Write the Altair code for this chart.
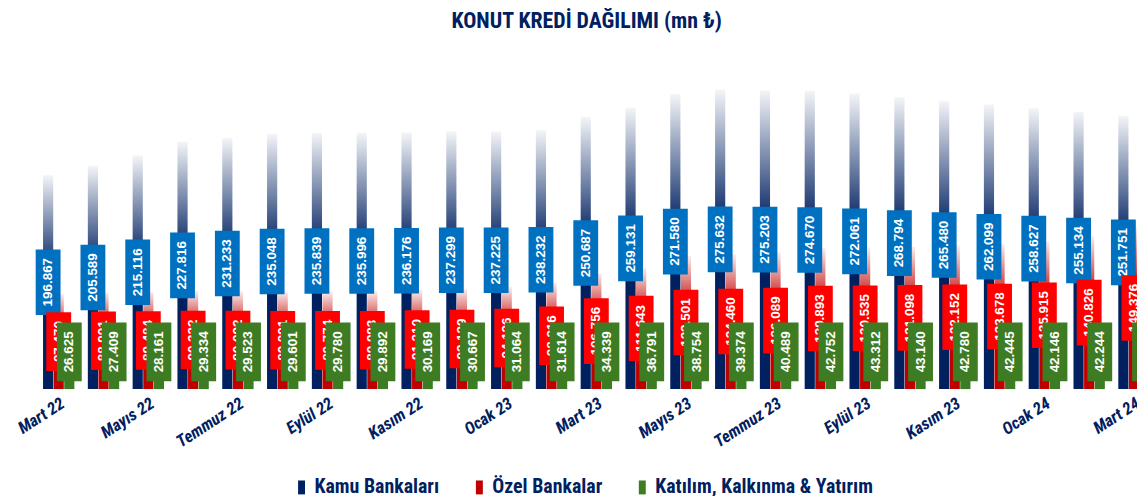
import altair as alt
import pandas as pd

months = ["Mart 22", "Nisan 22", "Mayıs 22", "Haziran 22", "Temmuz 22", "Ağustos 22",
          "Eylül 22", "Ekim 22", "Kasım 22", "Aralık 22", "Ocak 23", "Şubat 23",
          "Mart 23", "Nisan 23", "Mayıs 23", "Haziran 23", "Temmuz 23", "Ağustos 23",
          "Eylül 23", "Ekim 23", "Kasım 23", "Aralık 23", "Ocak 24", "Şubat 24", "Mart 24"]
tick_months = ["Mart 22", "Mayıs 22", "Temmuz 22", "Eylül 22", "Kasım 22", "Ocak 23",
               "Mart 23", "Mayıs 23", "Temmuz 23", "Eylül 23", "Kasım 23", "Ocak 24", "Mart 24"]
kamu = [196.867, 205.589, 215.116, 227.816, 231.233, 235.048, 235.839, 235.996, 236.176,
        237.299, 237.225, 238.232, 250.687, 259.131, 271.580, 275.632, 275.203, 274.670,
        272.061, 268.794, 265.480, 262.099, 258.627, 255.134, 251.751]
ozel = [87.470, 88.991, 89.484, 90.332, 90.092, 89.891, 89.774, 89.993, 91.210, 92.129,
        94.126, 98.216, 106.756, 111.643, 122.501, 124.460, 126.089, 129.893, 130.535,
        131.098, 132.152, 133.678, 135.915, 140.826, 149.376]
katilim = [26.625, 27.409, 28.161, 29.334, 29.523, 29.601, 29.780, 29.892, 30.169, 30.667,
           31.064, 31.614, 34.339, 36.791, 38.754, 39.374, 40.489, 42.752, 43.312, 43.140,
           42.780, 42.445, 42.146, 42.244, 42.600]
series = ["Kamu Bankaları", "Özel Bankalar", "Katılım, Kalkınma & Yatırım"]

rows = []
for s, vals in zip(series, [kamu, ozel, katilim]):
    for m, v in zip(months, vals):
        lab = f"{v:.3f}"
        rows.append(dict(month=m, series=s, value=v, mid=v / 2, label=lab, n=str(len(lab))))
df = pd.DataFrame(rows)

NAVY = "#002060"
NARROW = "Liberation Sans Narrow, Arial Narrow, Roboto Condensed, Liberation Sans, sans-serif"
LABELFONT = "Liberation Sans, Arial, sans-serif"

P7 = "M-0.379,-1L0.379,-1L0.379,1L-0.379,1Z"
P6 = "M-0.379,-0.894L0.379,-0.894L0.379,0.894L-0.379,0.894Z"
LEG = "M-0.5,-1L0.5,-1L0.5,1L-0.5,1Z"


def grad(c_bottom, c_top, mid):
    return alt.Gradient(
        gradient="linear",
        stops=[alt.GradientStop(color=c_bottom, offset=0),
               alt.GradientStop(color=c_bottom, offset=mid),
               alt.GradientStop(color=c_top, offset=1)],
        x1=0, x2=0, y1=1, y2=0)


x_enc = alt.X("month:N", sort=months, title=None,
              scale=alt.Scale(domain=months, range=[0, 1127.5], paddingInner=0.3, paddingOuter=0.15),
              axis=alt.Axis(values=tick_months, labelAngle=-33, labelAlign="right",
                            labelBaseline="top", labelPadding=6, domain=False, ticks=False,
                            grid=False, labelFont=NARROW, labelFontSize=17,
                            labelFontStyle="italic", labelFontWeight="bold",
                            labelColor=NAVY, labelOverlap=False, labelBound=False))
xo_enc = alt.XOffset("series:N", sort=series, scale=alt.Scale(domain=series, paddingInner=0.04))
y_scale = alt.Scale(domain=[0, 300], nice=False)
shape_enc = alt.Shape("n:N", scale=alt.Scale(domain=["6", "7"], range=[P6, P7]), legend=None)

base = alt.Chart(df).encode(x=x_enc, xOffset=xo_enc)

bar_cols = {
    series[0]: grad(NAVY, "#f4f5f8", 0.55),
    series[1]: grad("#C00000", "#fbeeee", 0.6),
    series[2]: grad("#3B7D23", "#a8dcec", 0.5),
}
box_cols = {series[0]: "#0070C0", series[1]: "#FF0000", series[2]: "#3E7C24"}

layers = []
for s in series:
    layers.append(
        base.transform_filter(alt.datum.series == s)
        .mark_bar(color=bar_cols[s])
        .encode(y=alt.Y("value:Q", scale=y_scale, axis=None))
    )

for s in series:
    sub = base.transform_filter(alt.datum.series == s)
    if s == series[2]:
        ypos = alt.Y(datum=0, scale=y_scale, axis=None)
        off = -37.5
    else:
        ypos = alt.Y("mid:Q", scale=y_scale, axis=None)
        off = 0
    layers.append(
        sub.mark_point(filled=True, opacity=1, strokeWidth=0, color=box_cols[s], size=4356, yOffset=off)
        .encode(y=ypos, shape=shape_enc)
    )
    layers.append(
        sub.mark_text(angle=270, color="white", fontWeight="bold", fontSize=13.5, font=LABELFONT,
                      align="center", baseline="middle", yOffset=off)
        .encode(y=ypos, text="label:N")
    )

legend_layer = base.mark_point(filled=True, opacity=0, size=0).encode(
    y=alt.Y(datum=0, scale=y_scale, axis=None),
    color=alt.Color("series:N", sort=series,
                    scale=alt.Scale(domain=series, range=[NAVY, "#C00000", "#3B7D23"]),
                    legend=alt.Legend(orient="none", legendX=257, legendY=417,
                                      direction="horizontal", columns=3, title=None,
                                      symbolType=LEG, symbolSize=196, symbolOpacity=1,
                                      symbolStrokeWidth=0, labelFont=NARROW, labelFontSize=20,
                                      labelFontWeight="bold", labelColor=NAVY,
                                      columnPadding=30, labelOffset=3, labelLimit=400)))
layers.append(legend_layer)

chart = alt.layer(*layers).properties(
    width=1108, height=328,
    title=alt.TitleParams("KONUT KREDİ DAĞILIMI (mn ₺)", font=NARROW, fontSize=22,
                          fontWeight="bold", color=NAVY, anchor="middle", offset=30),
    autosize=alt.AutoSizeParams(type="none"),
    padding={"left": 28.5, "top": 54, "right": 0, "bottom": 106},
).configure_view(stroke=None)

chart.save("out.html", embed_options={"renderer": "svg", "actions": False})
